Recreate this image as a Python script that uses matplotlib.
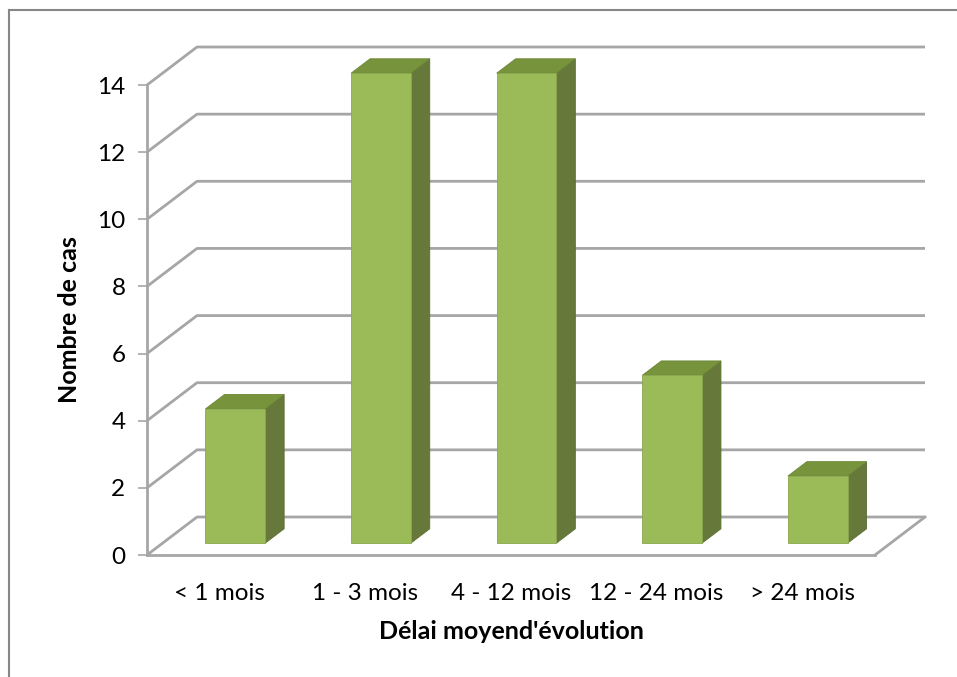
import matplotlib.pyplot as plt
from matplotlib.patches import Polygon
from matplotlib.lines import Line2D

categories = ["< 1 mois", "1 - 3 mois", "4 - 12 mois", "12 - 24 mois", "> 24 mois"]
counts = [4, 14, 14, 5, 2]
yticks = [0, 2, 4, 6, 8, 10, 12, 14]

plt.rcParams['font.family'] = ['Lato', 'DejaVu Sans']

W, H = 957, 677
fig = plt.figure(figsize=(W / 100, H / 100), dpi=100)
fig.patch.set_facecolor('white')

# front plane of the 3d box, in pixels
x_left, x_right = 147, 875
y_zero, y_top = 555, 85
ax = fig.add_axes([x_left / W, (H - y_zero) / H, (x_right - x_left) / W, (y_zero - y_top) / H])
n = len(categories)
ax.set_xlim(0, n)
ax.set_ylim(0, 14)
ax.set_facecolor('none')

# depth of the box (oblique projection) in data units
px_x = (x_right - x_left) / n
px_y = (y_zero - y_top) / 14
dx = 50 / px_x
dy = 38 / px_y

grid_col = '#a6a6a6'
# back wall and side wall gridlines
for v in yticks:
    ax.plot([0, dx, n + dx], [v, v + dy, v + dy], color=grid_col, lw=2.0,
            clip_on=False, zorder=1, solid_capstyle='butt')
# floor right edge
ax.plot([n, n + dx], [0, dy], color=grid_col, lw=2.0, clip_on=False, zorder=1)

# 3d columns
w = 0.41
f0, bd = 0.31, 0.38
front_col, side_col, top_col = '#9bbb59', '#66793a', '#77933c'
for i, v in enumerate(counts):
    x0 = i + 0.5 - w / 2 + f0 * dx
    yb = f0 * dy
    ox, oy = bd * dx, bd * dy
    front = Polygon([(x0, yb), (x0 + w, yb), (x0 + w, yb + v), (x0, yb + v)],
                    closed=True, fc=front_col, ec='#8aa84e', lw=0.6, zorder=5, clip_on=False)
    side = Polygon([(x0 + w, yb), (x0 + w + ox, yb + oy), (x0 + w + ox, yb + v + oy), (x0 + w, yb + v)],
                   closed=True, fc=side_col, ec='#5c6e34', lw=0.6, zorder=4, clip_on=False)
    top = Polygon([(x0, yb + v), (x0 + w, yb + v), (x0 + w + ox, yb + v + oy), (x0 + ox, yb + v + oy)],
                  closed=True, fc=top_col, ec='#6d8737', lw=0.6, zorder=4, clip_on=False)
    for p in (side, top, front):
        ax.add_patch(p)

# axes
for s in ('top', 'right'):
    ax.spines[s].set_visible(False)
for s in ('left', 'bottom'):
    ax.spines[s].set_color(grid_col)
    ax.spines[s].set_linewidth(2.0)
    ax.spines[s].set_zorder(2)
ax.set_yticks(yticks)
ax.tick_params(axis='y', length=6.5, width=1.2, color=grid_col, labelsize=17.5, pad=9)
ax.set_xticks([i + 0.5 for i in range(n)])
ax.set_xticklabels(categories)
ax.tick_params(axis='x', length=0, labelsize=17.5, pad=20)

ax.set_ylabel('Nombre de cas', fontsize=18, fontweight='bold', labelpad=12)
ax.set_xlabel("Délai moyend'évolution", fontsize=18, fontweight='bold', labelpad=12)

# chart area border
fig.add_artist(Line2D([9 / W, 9 / W], [0, 1 - 10 / H], color='#868686', lw=1.5))
fig.add_artist(Line2D([9 / W, 1], [1 - 10 / H, 1 - 10 / H], color='#868686', lw=1.5))

fig.savefig('out.png', dpi=100)
